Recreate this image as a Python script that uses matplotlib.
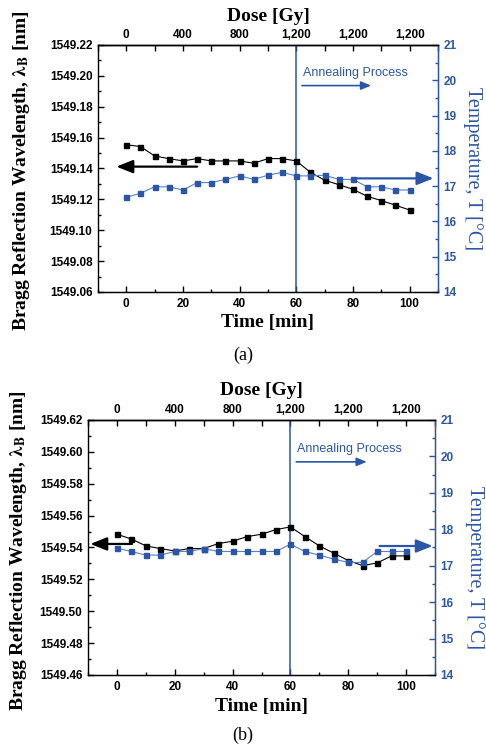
import numpy as np
import matplotlib
matplotlib.use("Agg")
import matplotlib.pyplot as plt
from matplotlib.ticker import MultipleLocator

# 時間軸 (min)
time_min = [0, 5, 10, 15, 20, 25, 30, 35, 40, 45, 50, 55, 60, 65, 70, 75, 80, 85, 90, 95, 100]

# (a) 波長與溫度
wl_a = [1549.1554, 1549.1542, 1549.1481, 1549.1464, 1549.1449, 1549.1464, 1549.1449,
        1549.1449, 1549.1449, 1549.1434, 1549.1464, 1549.1464, 1549.1449, 1549.1375,
        1549.1324, 1549.1295, 1549.1265, 1549.1220, 1549.1192, 1549.1162, 1549.1131]
temp_a = [16.68, 16.80, 16.98, 16.98, 16.89, 17.10, 17.10, 17.19, 17.29, 17.19, 17.31,
          17.39, 17.29, 17.29, 17.31, 17.19, 17.19, 16.98, 16.98, 16.89, 16.89]

# (b) 波長與溫度
wl_b = [1549.5483, 1549.5453, 1549.5410, 1549.5393, 1549.5378, 1549.5393, 1549.5393,
        1549.5424, 1549.5439, 1549.5468, 1549.5483, 1549.5512, 1549.5529, 1549.5468,
        1549.5410, 1549.5364, 1549.5318, 1549.5286, 1549.5303, 1549.5347, 1549.5347]
temp_b = [17.48, 17.39, 17.29, 17.29, 17.39, 17.39, 17.47, 17.39, 17.39, 17.39, 17.39,
          17.39, 17.59, 17.39, 17.29, 17.18, 17.09, 17.09, 17.39, 17.39, 17.39]

# 上方劑量軸
dose_pos = [0, 20, 40, 60, 80, 100]
dose_labels = ["0", "400", "800", "1,200", "1,200", "1,200"]

BLUE = "#2b56a8"
LBLUE = "#5a80c8"
SERIF = "Liberation Serif"
SANS = "Liberation Sans"


def panel(rect, wl, temp, ylim, arrow_k, arrow_b, tag, tag_y, llab_x, rlab_x, rlab_y):
    ax = fig.add_axes(rect)
    ax2 = ax.twinx()

    ax.plot(time_min, wl, color="k", lw=0.8, marker="s", ms=3.6, mfc="k", mec="k", zorder=3)
    ax2.plot(time_min, temp, color=LBLUE, lw=0.8, marker="s", ms=3.6, mfc=BLUE, mec=BLUE, zorder=3)

    ax.set_xlim(-10, 110)
    ax.set_ylim(*ylim)
    ax2.set_ylim(14, 21)

    ax.axvline(60, color=BLUE, lw=1.1, zorder=2)

    # 箭頭
    ax.annotate("", xy=(arrow_k[1], arrow_k[2]), xytext=(arrow_k[0], arrow_k[2]),
                arrowprops=dict(arrowstyle="-|>,head_length=1.0,head_width=0.4",
                                color="k", lw=1.6, shrinkA=0, shrinkB=0))
    ax2.annotate("", xy=(arrow_b[1], arrow_b[2]), xytext=(arrow_b[0], arrow_b[2]),
                 arrowprops=dict(arrowstyle="-|>,head_length=1.0,head_width=0.4",
                                 color=BLUE, lw=1.6, shrinkA=0, shrinkB=0))
    ax2.text(62.3, 20.2, "Annealing Process", color=BLUE, fontsize=9,
             family=SANS, ha="left", va="center")
    ax2.annotate("", xy=(86.4, 19.85), xytext=(62, 19.85),
                 arrowprops=dict(arrowstyle="-|>,head_length=0.6,head_width=0.25",
                                 color=BLUE, lw=1.2, shrinkA=0, shrinkB=0))

    # 刻度
    ax.xaxis.set_major_locator(MultipleLocator(20))
    ax.xaxis.set_minor_locator(MultipleLocator(10))
    ax.yaxis.set_major_locator(MultipleLocator(0.02))
    ax.yaxis.set_minor_locator(MultipleLocator(0.01))
    ax.yaxis.set_major_formatter(matplotlib.ticker.FormatStrFormatter("%.2f"))
    ax2.yaxis.set_major_locator(MultipleLocator(1))
    ax2.yaxis.set_minor_locator(MultipleLocator(0.5))

    ax.tick_params(which="both", direction="in", top=False, right=False, width=1.0)
    ax.tick_params(which="major", length=4, pad=4)
    ax.tick_params(which="minor", length=2.5)
    ax2.tick_params(which="both", direction="in", colors=BLUE, width=1.0)
    ax2.tick_params(which="major", length=4, pad=4)
    ax2.tick_params(which="minor", length=2.5)
    for lab in ax.get_xticklabels() + ax.get_yticklabels():
        lab.set_fontfamily(SANS)
        lab.set_fontweight("bold")
        lab.set_fontsize(8.5)
    for lab in ax2.get_yticklabels():
        lab.set_fontfamily(SANS)
        lab.set_fontweight("bold")
        lab.set_fontsize(8.5)
        lab.set_color(BLUE)

    for s in ["left", "bottom", "top"]:
        ax.spines[s].set_linewidth(1.0)
    ax2.spines["right"].set_color(BLUE)
    ax2.spines["right"].set_linewidth(1.0)
    ax2.spines["left"].set_visible(False)

    # 上方劑量軸
    sec = ax.secondary_xaxis("top")
    sec.set_xticks(dose_pos, labels=dose_labels)
    sec.xaxis.set_minor_locator(MultipleLocator(10))
    sec.tick_params(which="both", direction="in", width=1.0, pad=3)
    sec.tick_params(which="major", length=4)
    sec.tick_params(which="minor", length=4)
    for lab in sec.get_xticklabels():
        lab.set_fontfamily(SANS)
        lab.set_fontweight("bold")
        lab.set_fontsize(8.5)
    sec.spines["top"].set_linewidth(1.0)

    ax.text(0.5, 1.115, "Dose [Gy]", transform=ax.transAxes, ha="center", va="center",
            family=SERIF, fontweight="bold", fontsize=14)
    ax.set_xlabel("Time [min]", family=SERIF, fontweight="bold", fontsize=14)
    ax.xaxis.set_label_coords(0.5, -0.09)
    ax.set_ylabel(r"Bragg Reflection Wavelength, $\mathbf{\lambda_B}$ [nm]",
                  family=SERIF, fontweight="bold", fontsize=14)
    ax.yaxis.set_label_coords(llab_x, 0.49)
    ax2.set_ylabel("Temperature, T [°C]", family=SERIF, fontsize=14.5, color=BLUE,
                   rotation=270, va="center")
    ax2.yaxis.set_label_coords(rlab_x, rlab_y)

    fig.text(0.5, tag_y, tag, family=SERIF, fontsize=13, ha="center", va="center")
    return ax


plt.rcParams["mathtext.fontset"] = "stix"
fig = plt.figure(figsize=(4.86, 7.45), dpi=100)

panel([0.2016, 0.6081, 0.6996, 0.3315], wl_a, temp_a, (1549.06, 1549.22),
      (25, -3.5, 1549.1412), (80.8, 108.4, 17.22), "(a)", 1 - 355 / 745,
      -0.194, 1.103, 0.5)
panel([0.1811, 0.0940, 0.7140, 0.3423], wl_b, temp_b, (1549.46, 1549.62),
      (5.2, -9.2, 1549.5422), (90.8, 109.2, 17.54), "(b)", 1 - 735 / 745,
      -0.17, 1.115, 0.42)

fig.savefig("out.png", dpi=100)
